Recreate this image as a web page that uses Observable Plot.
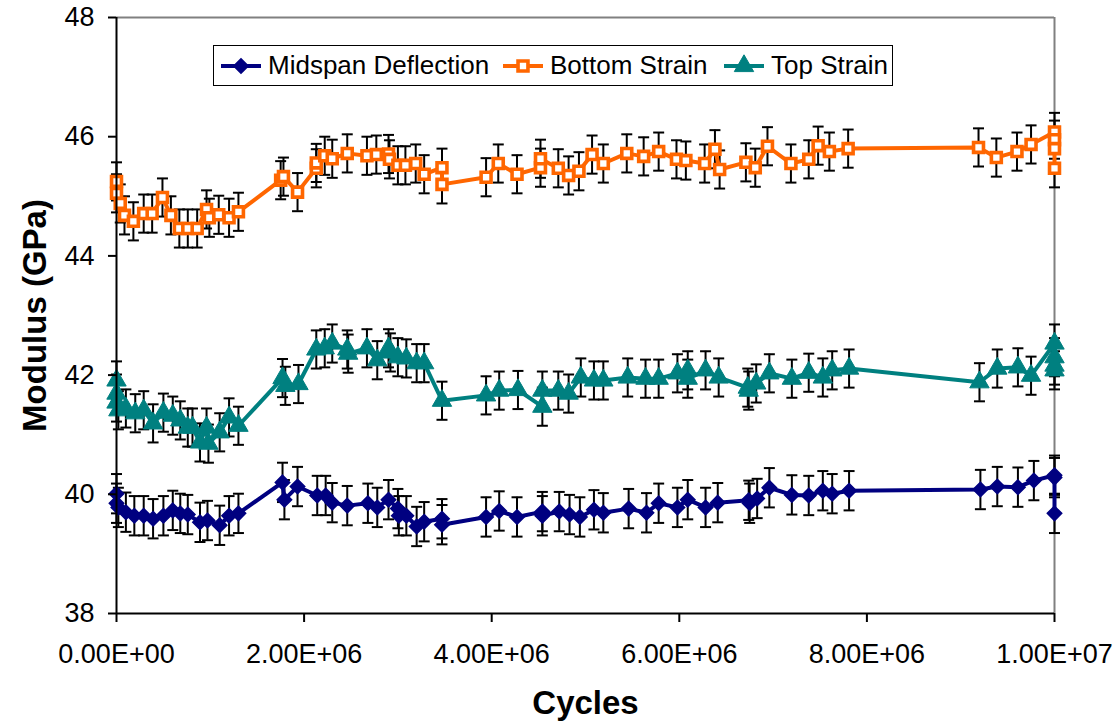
<!DOCTYPE html>
<html><head><meta charset="utf-8">
<script src="https://cdn.jsdelivr.net/npm/d3@7"></script>
<script src="https://cdn.jsdelivr.net/npm/@observablehq/plot@0.6"></script>
<style>
body{margin:0;background:#fff;font-family:"Liberation Sans",Arial,sans-serif;}
#wrap{position:relative;width:1119px;height:725px;}
#legend{position:absolute;left:213px;top:45px;width:678px;height:39px;border:1.5px solid #000;background:#fff;}
.item{position:absolute;top:0;height:39px;display:flex;align-items:center;font-size:26px;color:#000;white-space:nowrap;}
.item svg{margin-right:7px;}
</style></head><body><div id="wrap"><div id="legend"></div></div>
<script>
// x values in millions of cycles, y values in GPa
const seriesNames = ["Midspan Deflection", "Bottom Strain", "Top Strain"];
const seriesColors = ["#000080", "#FF6600", "#008080"];

const xMidspan = [0,0,0.02,0.1,0.19,0.29,0.39,0.5,0.6,0.68,0.76,0.89,0.97,1.1,1.2,1.3,1.77,1.79,1.93,2.14,2.23,2.3,2.46,2.68,2.78,2.9,3.0,3.01,3.09,3.2,3.28,3.47,3.47,3.94,4.08,4.27,4.54,4.54,4.72,4.83,4.94,5.09,5.19,5.46,5.65,5.78,5.98,6.09,6.28,6.41,6.74,6.75,6.83,6.96,7.2,7.38,7.53,7.63,7.81,9.21,9.39,9.61,9.78,10,10,10];
const yMidspan = [40.01,39.85,39.78,39.7,39.64,39.64,39.59,39.64,39.73,39.68,39.66,39.53,39.56,39.48,39.64,39.68,40.2,39.91,40.13,39.98,39.98,39.86,39.81,39.85,39.78,39.91,39.76,39.64,39.64,39.46,39.54,39.59,39.49,39.62,39.72,39.62,39.71,39.64,39.71,39.66,39.62,39.74,39.69,39.76,39.69,39.85,39.78,39.91,39.78,39.86,39.9,39.85,39.93,40.11,39.99,39.98,40.06,40.01,40.06,40.08,40.13,40.12,40.23,40.32,40.28,39.68];

const xBottom = [0,0,0.04,0.085,0.18,0.29,0.38,0.49,0.58,0.67,0.76,0.86,0.96,0.99,1.09,1.2,1.3,1.75,1.78,1.93,2.13,2.13,2.22,2.3,2.46,2.67,2.77,2.9,2.91,3.0,3.08,3.19,3.28,3.47,3.47,3.94,4.07,4.27,4.52,4.52,4.71,4.82,4.93,5.07,5.19,5.44,5.62,5.78,5.97,6.07,6.27,6.38,6.43,6.71,6.81,6.94,7.19,7.38,7.48,7.6,7.8,9.19,9.38,9.6,9.75,10,10,10,10];
const yBottom = [45.25,45.05,44.88,44.68,44.58,44.71,44.71,44.98,44.68,44.46,44.46,44.46,44.78,44.64,44.69,44.64,44.74,45.27,45.33,45.07,45.47,45.56,45.68,45.63,45.72,45.68,45.7,45.71,45.62,45.52,45.52,45.55,45.37,45.48,45.2,45.32,45.55,45.37,45.48,45.63,45.47,45.35,45.42,45.7,45.55,45.72,45.67,45.75,45.62,45.6,45.55,45.79,45.45,45.57,45.48,45.84,45.55,45.62,45.85,45.75,45.8,45.82,45.65,45.75,45.87,46.08,45.95,45.8,45.47];

const xTop = [0,0,0,0.02,0.1,0.2,0.29,0.39,0.5,0.6,0.68,0.76,0.81,0.89,0.96,0.98,1.1,1.2,1.3,1.77,1.8,1.94,2.13,2.22,2.3,2.46,2.47,2.67,2.78,2.9,2.92,3.0,3.09,3.2,3.28,3.47,3.94,4.08,4.28,4.54,4.54,4.71,4.82,4.95,5.09,5.19,5.45,5.64,5.78,5.98,6.09,6.09,6.28,6.42,6.73,6.74,6.82,6.96,7.2,7.38,7.53,7.63,7.81,9.2,9.39,9.61,9.75,10,10,10,10];
const yTop = [41.91,41.69,41.54,41.41,41.44,41.36,41.41,41.19,41.37,41.32,41.24,41.12,41.12,40.87,41.12,40.85,41.04,41.29,41.15,41.95,41.82,41.85,42.43,42.45,42.53,42.43,42.36,42.45,42.25,42.45,42.38,42.3,42.28,42.2,42.2,41.57,41.66,41.74,41.75,41.47,41.74,41.74,41.69,41.96,41.91,41.91,41.96,41.94,41.94,42.03,42.08,41.94,42.08,41.96,41.79,41.74,41.86,42.03,41.94,42.04,41.96,42.08,42.11,41.88,42.11,42.13,41.99,42.53,42.3,42.08,42.16];

const errorHalf = [0.33, 0.32, 0.32]; // +/- error bar, GPa

const xTicks = [0, 2, 4, 6, 8, 10];
const xTickLabels = ["0.00E+00", "2.00E+06", "4.00E+06", "6.00E+06", "8.00E+06", "1.00E+07"];
const yTicks = [38, 40, 42, 44, 46, 48];
const xTitle = "Cycles";
const yTitle = "Modulus (GPa)";

const toRows = (xs, ys, e) => xs.map((x, i) => ({x, y: ys[i], lo: ys[i] - e, hi: ys[i] + e}));
const sets = [
  toRows(xMidspan, yMidspan, errorHalf[0]),
  toRows(xBottom, yBottom, errorHalf[1]),
  toRows(xTop, yTop, errorHalf[2])
];

const capSymbol = {draw(ctx, size) { const r = Math.sqrt(size / Math.PI); ctx.moveTo(-r, 0); ctx.lineTo(r, 0); }};
const markerStyles = [
  {symbol: "diamond2", r: 6.5, fill: seriesColors[0], stroke: seriesColors[0], strokeWidth: 1.5},
  {symbol: "square", r: 5.6, fill: "#fff", stroke: seriesColors[1], strokeWidth: 3.6},
  {symbol: "triangle", r: 7.2, fill: seriesColors[2], stroke: seriesColors[2], strokeWidth: 1}
];

const errMarks = sets.flatMap(rows => [
  Plot.ruleX(rows, {x: "x", y1: "lo", y2: "hi", stroke: "#000", strokeWidth: 2}),
  Plot.dot(rows, {x: "x", y: "lo", symbol: capSymbol, r: 5.5, stroke: "#000", fill: "none", strokeWidth: 2}),
  Plot.dot(rows, {x: "x", y: "hi", symbol: capSymbol, r: 5.5, stroke: "#000", fill: "none", strokeWidth: 2})
]);
const lineMarks = sets.map((rows, i) => Plot.line(rows, {x: "x", y: "y", stroke: seriesColors[i], strokeWidth: 4}));
const dotMarks = sets.map((rows, i) => Plot.dot(rows, {x: "x", y: "y", ...markerStyles[i]}));

const chart = Plot.plot({
  width: 1119, height: 725,
  marginLeft: 116, marginRight: 65, marginTop: 17, marginBottom: 112,
  style: {fontFamily: "'Liberation Sans', Arial, sans-serif", fontSize: "27px", color: "#000", background: "#fff"},
  x: {domain: [0, 10]},
  y: {domain: [38, 48]},
  marks: [
    Plot.ruleY([48], {stroke: "#808080", strokeWidth: 2}),
    Plot.ruleX([10], {stroke: "#808080", strokeWidth: 2}),
    ...errMarks,
    ...lineMarks,
    ...dotMarks,
    Plot.axisX({ticks: xTicks, tickFormat: d => xTickLabels[xTicks.indexOf(d)], tickSize: 9, tickPadding: 21, fontSize: 27, strokeWidth: 2, label: null}),
    Plot.axisY({ticks: yTicks, tickSize: 8, tickPadding: 14, fontSize: 27, strokeWidth: 2, label: null}),
    Plot.ruleX([0], {stroke: "#000", strokeWidth: 2}),
    Plot.ruleY([38], {stroke: "#000", strokeWidth: 2}),
    Plot.text([yTitle], {frameAnchor: "left", dx: -81, rotate: -90, textAnchor: "middle", lineAnchor: "middle", fontSize: 33, fontWeight: "bold"}),
    Plot.text([xTitle], {frameAnchor: "bottom", dy: 90, textAnchor: "middle", lineAnchor: "middle", fontSize: 33, fontWeight: "bold"})
  ]
});
document.getElementById("wrap").prepend(chart);

// legend
const legend = d3.select("#legend");
const legendLeft = [7, 289, 510];
seriesNames.forEach((name, i) => {
  const item = legend.append("div").attr("class", "item").style("left", legendLeft[i] + "px");
  const svg = item.append("svg").attr("width", 40).attr("height", 24);
  svg.append("line").attr("x1", 0).attr("x2", 40).attr("y1", 12).attr("y2", 12).attr("stroke", seriesColors[i]).attr("stroke-width", 4);
  const ms = markerStyles[i];
  const type = {diamond2: d3.symbolDiamond2, square: d3.symbolSquare, triangle: d3.symbolTriangle}[ms.symbol];
  svg.append("path").attr("transform", "translate(20,12)")
    .attr("d", d3.symbol(type, ms.r * ms.r * Math.PI)())
    .attr("fill", ms.fill).attr("stroke", ms.stroke).attr("stroke-width", ms.strokeWidth);
  item.append("span").text(name);
});
</script>
</body></html>
